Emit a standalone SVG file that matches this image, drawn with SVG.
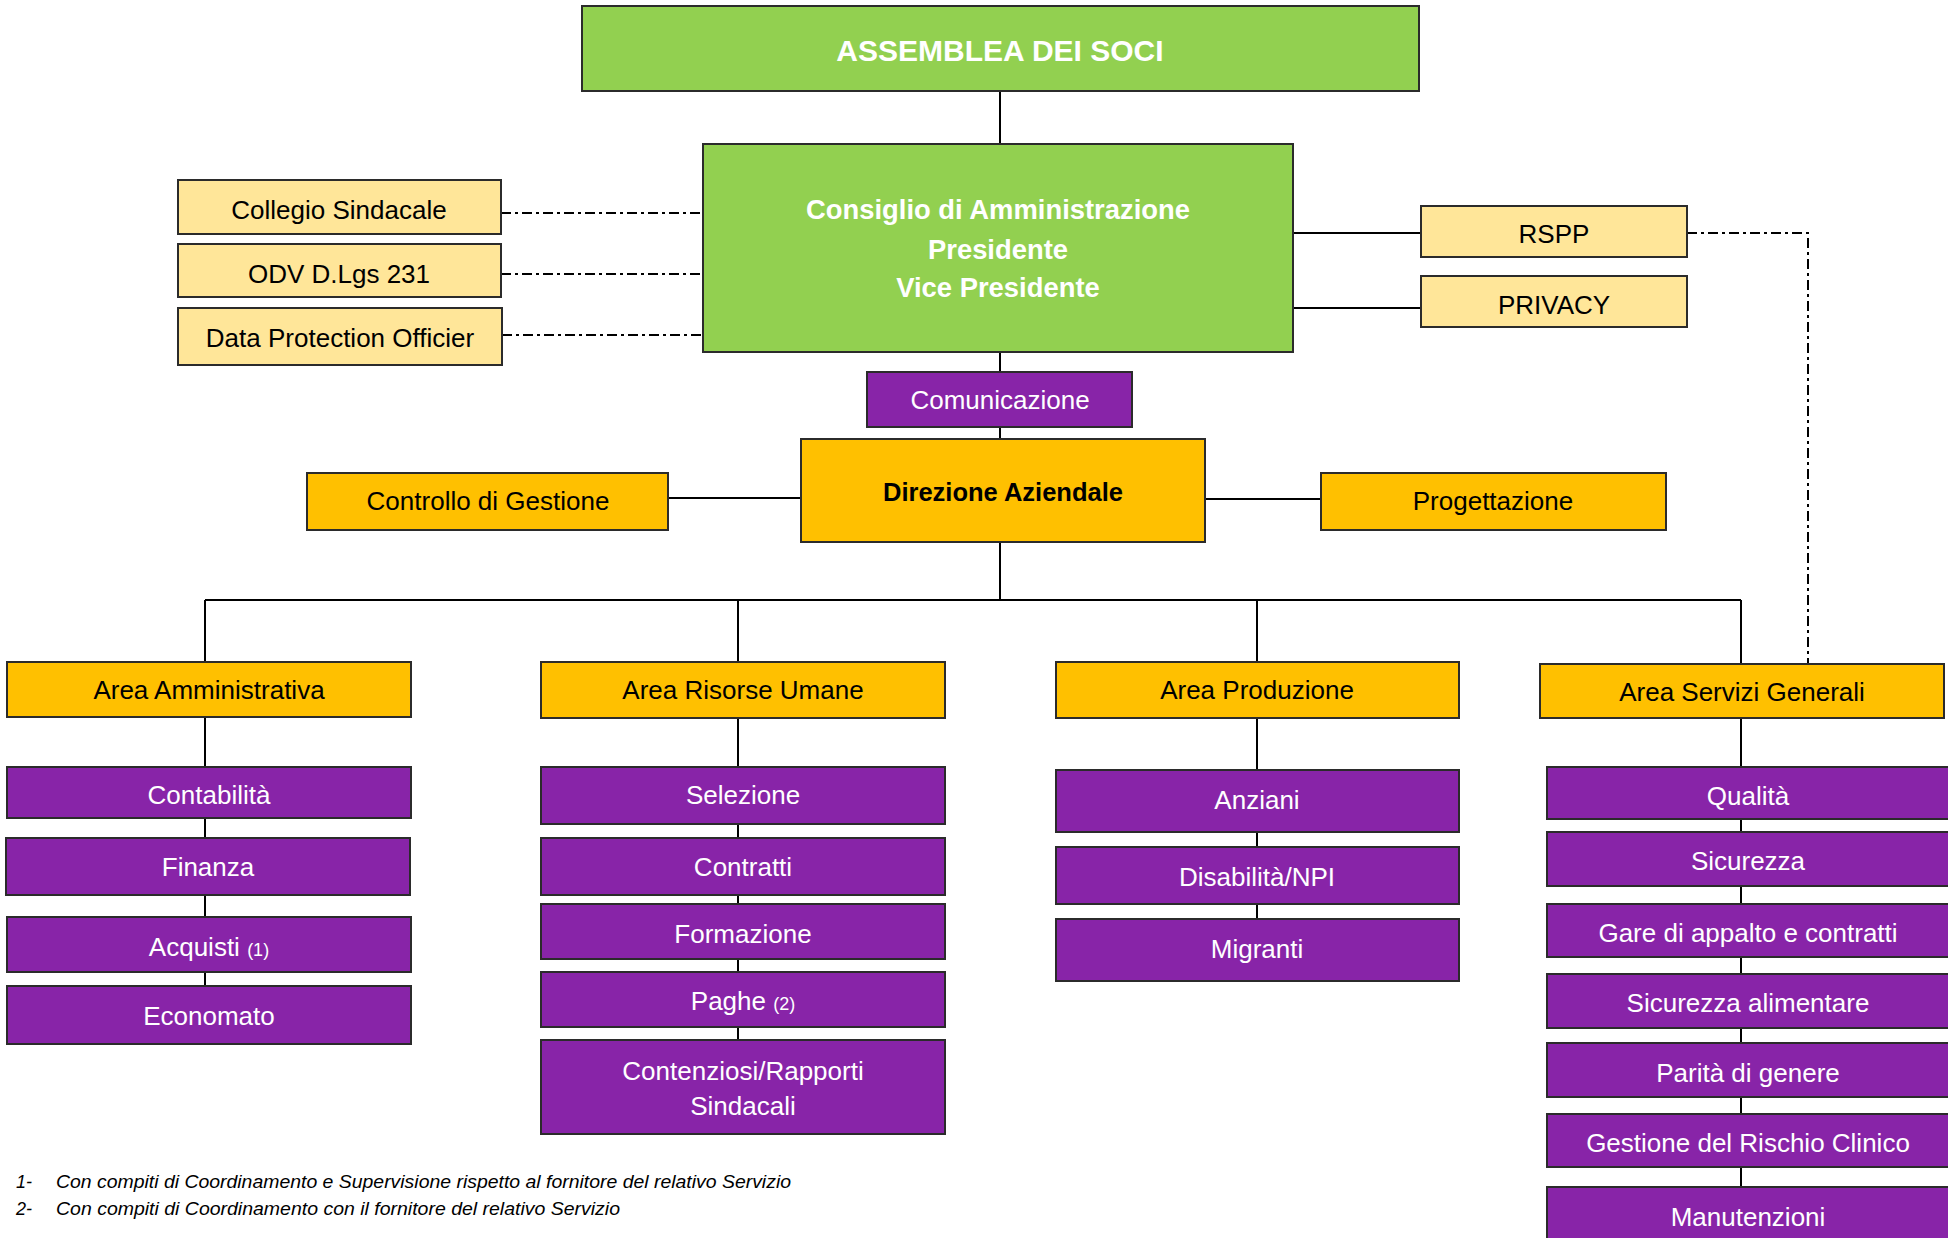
<svg xmlns="http://www.w3.org/2000/svg" width="1948" height="1238" viewBox="0 0 1948 1238">
<style>
  text { font-family: "Liberation Sans", Arial, sans-serif; font-size: 26px; text-anchor: middle; }
  .box { stroke: #2b2b2b; stroke-width: 2; }
  .green { fill: #92D050; }
  .lyellow { fill: #FFE699; }
  .orange { fill: #FFC000; }
  .purple { fill: #8824A8; }
  .wb { fill: #ffffff; font-weight: bold; }
  .w { fill: #ffffff; }
  .k { fill: #000000; }
  .t30 { font-size: 30px; }
  .t27 { font-size: 27.4px; }
  .t25 { font-size: 25.5px; font-weight: bold; }
  .line { stroke: #000; stroke-width: 2; fill: none; }
  .dash { stroke: #000; stroke-width: 2; fill: none; stroke-dasharray: 10 4 3 4; }
  .foot { font-style: italic; font-size: 18px; text-anchor: start; fill: #000; }
  .small { font-size: 18px; }
</style>

<g id="connectors">
  <path class="line" d="M1000,91 V600"/>
  <path class="dash" d="M501,213 H703"/>
  <path class="dash" d="M501,274 H703"/>
  <path class="dash" d="M502,335 H703"/>
  <path class="line" d="M1293,233 H1421"/>
  <path class="line" d="M1293,308 H1421"/>
  <path class="dash" d="M1687,233 H1808 V664"/>
  <path class="line" d="M668,498 H801"/>
  <path class="line" d="M1205,499 H1321"/>
  <path class="line" d="M205,600 H1741"/>
  <path class="line" d="M205,600 V986"/>
  <path class="line" d="M738,600 V1040"/>
  <path class="line" d="M1257,600 V919"/>
  <path class="line" d="M1741,600 V1187"/>
</g>

<g id="assemblea">
  <rect class="box green" x="582" y="6" width="837" height="85"/>
  <text class="wb t30" x="1000" y="61">ASSEMBLEA DEI SOCI</text>
</g>
<g id="consiglio">
  <rect class="box green" x="703" y="144" width="590" height="208"/>
  <text class="wb t27" x="998" y="219">Consiglio di Amministrazione</text>
  <text class="wb t27" x="998" y="259">Presidente</text>
  <text class="wb t27" x="998" y="297">Vice Presidente</text>
</g>
<g id="collegio">
  <rect class="box lyellow" x="178" y="180" width="323" height="54"/>
  <text class="k" x="339" y="219">Collegio Sindacale</text>
</g>
<g id="odv">
  <rect class="box lyellow" x="178" y="244" width="323" height="53"/>
  <text class="k" x="339" y="283">ODV D.Lgs 231</text>
</g>
<g id="dpo">
  <rect class="box lyellow" x="178" y="308" width="324" height="57"/>
  <text class="k" x="340" y="347">Data Protection Officier</text>
</g>
<g id="rspp">
  <rect class="box lyellow" x="1421" y="206" width="266" height="51"/>
  <text class="k" x="1554" y="243">RSPP</text>
</g>
<g id="privacy">
  <rect class="box lyellow" x="1421" y="276" width="266" height="51"/>
  <text class="k" x="1554" y="314">PRIVACY</text>
</g>
<g id="comunicazione">
  <rect class="box purple" x="867" y="372" width="265" height="55"/>
  <text class="w" x="1000" y="409">Comunicazione</text>
</g>
<g id="direzione">
  <rect class="box orange" x="801" y="439" width="404" height="103"/>
  <text class="k t25" x="1003" y="501">Direzione Aziendale</text>
</g>
<g id="controllo">
  <rect class="box orange" x="307" y="473" width="361" height="57"/>
  <text class="k" x="488" y="510">Controllo di Gestione</text>
</g>
<g id="progettazione">
  <rect class="box orange" x="1321" y="473" width="345" height="57"/>
  <text class="k" x="1493" y="510">Progettazione</text>
</g>

<g id="area-amministrativa">
  <rect class="box orange" x="7" y="662" width="404" height="55"/>
  <text class="k" x="209" y="699">Area Amministrativa</text>
</g>
<g id="area-risorse-umane">
  <rect class="box orange" x="541" y="662" width="404" height="56"/>
  <text class="k" x="743" y="699">Area Risorse Umane</text>
</g>
<g id="area-produzione">
  <rect class="box orange" x="1056" y="662" width="403" height="56"/>
  <text class="k" x="1257" y="699">Area Produzione</text>
</g>
<g id="area-servizi-generali">
  <rect class="box orange" x="1540" y="664" width="404" height="54"/>
  <text class="k" x="1742" y="701">Area Servizi Generali</text>
</g>

<g id="contabilita">
  <rect class="box purple" x="7" y="767" width="404" height="51"/>
  <text class="w" x="209" y="804">Contabilità</text>
</g>
<g id="finanza">
  <rect class="box purple" x="6" y="838" width="404" height="57"/>
  <text class="w" x="208" y="876">Finanza</text>
</g>
<g id="acquisti">
  <rect class="box purple" x="7" y="917" width="404" height="55"/>
  <text class="w" x="209" y="956">Acquisti <tspan class="small">(1)</tspan></text>
</g>
<g id="economato">
  <rect class="box purple" x="7" y="986" width="404" height="58"/>
  <text class="w" x="209" y="1025">Economato</text>
</g>

<g id="selezione">
  <rect class="box purple" x="541" y="767" width="404" height="57"/>
  <text class="w" x="743" y="804">Selezione</text>
</g>
<g id="contratti">
  <rect class="box purple" x="541" y="838" width="404" height="57"/>
  <text class="w" x="743" y="876">Contratti</text>
</g>
<g id="formazione">
  <rect class="box purple" x="541" y="904" width="404" height="55"/>
  <text class="w" x="743" y="943">Formazione</text>
</g>
<g id="paghe">
  <rect class="box purple" x="541" y="972" width="404" height="55"/>
  <text class="w" x="743" y="1010">Paghe <tspan class="small">(2)</tspan></text>
</g>
<g id="contenziosi">
  <rect class="box purple" x="541" y="1040" width="404" height="94"/>
  <text class="w" x="743" y="1080">Contenziosi/Rapporti</text>
  <text class="w" x="743" y="1115">Sindacali</text>
</g>

<g id="anziani">
  <rect class="box purple" x="1056" y="770" width="403" height="62"/>
  <text class="w" x="1257" y="809">Anziani</text>
</g>
<g id="disabilita">
  <rect class="box purple" x="1056" y="847" width="403" height="57"/>
  <text class="w" x="1257" y="886">Disabilità/NPI</text>
</g>
<g id="migranti">
  <rect class="box purple" x="1056" y="919" width="403" height="62"/>
  <text class="w" x="1257" y="958">Migranti</text>
</g>

<g id="qualita">
  <rect class="box purple" x="1547" y="767" width="403" height="52"/>
  <text class="w" x="1748" y="805">Qualità</text>
</g>
<g id="sicurezza">
  <rect class="box purple" x="1547" y="832" width="403" height="54"/>
  <text class="w" x="1748" y="870">Sicurezza</text>
</g>
<g id="gare">
  <rect class="box purple" x="1547" y="904" width="403" height="53"/>
  <text class="w" x="1748" y="942">Gare di appalto e contratti</text>
</g>
<g id="sicurezza-alimentare">
  <rect class="box purple" x="1547" y="974" width="403" height="54"/>
  <text class="w" x="1748" y="1012">Sicurezza alimentare</text>
</g>
<g id="parita">
  <rect class="box purple" x="1547" y="1043" width="403" height="54"/>
  <text class="w" x="1748" y="1082">Parità di genere</text>
</g>
<g id="gestione-rischio">
  <rect class="box purple" x="1547" y="1114" width="403" height="53"/>
  <text class="w" x="1748" y="1152">Gestione del Rischio Clinico</text>
</g>
<g id="manutenzioni">
  <rect class="box purple" x="1547" y="1187" width="403" height="63"/>
  <text class="w" x="1748" y="1226">Manutenzioni</text>
</g>

<g id="footnotes">
  <text class="foot" x="16" y="1188">1-</text>
  <text class="foot" x="56" y="1188" textLength="735" lengthAdjust="spacingAndGlyphs">Con compiti di Coordinamento e Supervisione rispetto al fornitore del relativo Servizio</text>
  <text class="foot" x="16" y="1215">2-</text>
  <text class="foot" x="56" y="1215" textLength="564" lengthAdjust="spacingAndGlyphs">Con compiti di Coordinamento con il fornitore del relativo Servizio</text>
</g>
</svg>
